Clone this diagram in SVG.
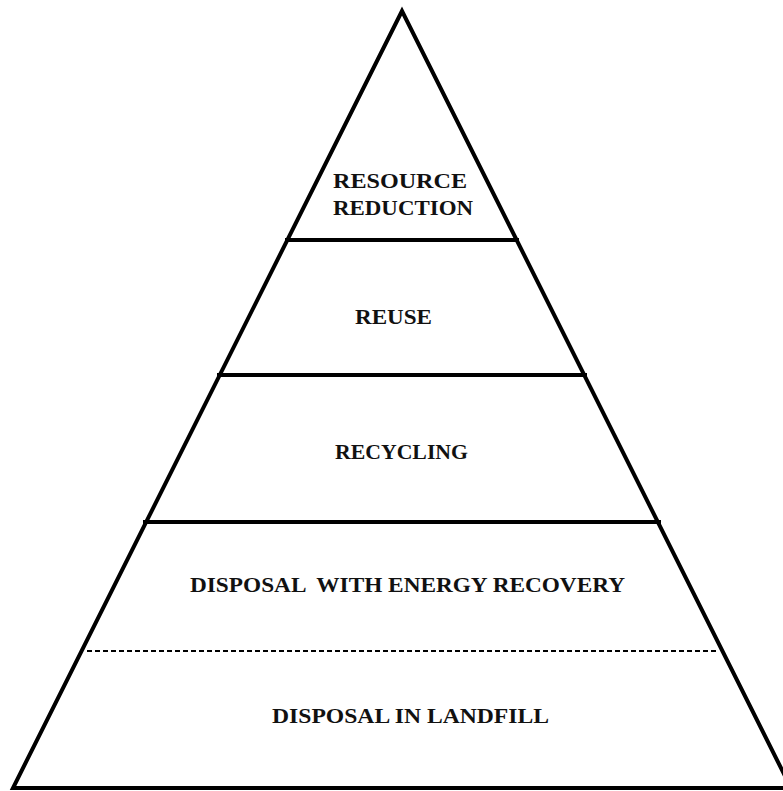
<svg xmlns="http://www.w3.org/2000/svg" width="783" height="791" viewBox="0 0 783 791">
  <style>
    .edge { fill: none; stroke: #000; stroke-width: 4; stroke-linejoin: miter; }
    .tier { stroke: #000; stroke-width: 4; }
    .split { stroke: #000; stroke-width: 2; stroke-dasharray: 5 3; }
    .lbl { font-family: "Liberation Serif", "Times New Roman", serif; font-weight: bold; font-size: 21px; fill: #111; text-anchor: middle; }
  </style>
  <rect width="783" height="791" fill="#fff"/>

  <!-- pyramid outline -->
  <g id="pyramid">
    <polygon class="edge" points="402,11 13,788 791,788"/>
  </g>

  <!-- tier dividers -->
  <g id="connectors">
    <line class="tier" x1="285" y1="240" x2="519" y2="240"/>
    <line class="tier" x1="217" y1="375" x2="587" y2="375"/>
    <line class="tier" x1="143" y1="522" x2="661" y2="522"/>
    <line class="split" x1="87" y1="651" x2="717" y2="651"/>
  </g>

  <g id="resource-reduction">
    <text class="lbl" x="400" y="188" textLength="134" lengthAdjust="spacingAndGlyphs">RESOURCE</text>
    <text class="lbl" x="403" y="215" textLength="140" lengthAdjust="spacingAndGlyphs">REDUCTION</text>
  </g>
  <g id="reuse">
    <text class="lbl" x="393.5" y="324" textLength="77" lengthAdjust="spacingAndGlyphs">REUSE</text>
  </g>
  <g id="recycling">
    <text class="lbl" x="401.5" y="459" textLength="133" lengthAdjust="spacingAndGlyphs">RECYCLING</text>
  </g>
  <g id="energy-recovery">
    <text class="lbl" x="407.5" y="592" textLength="435" lengthAdjust="spacingAndGlyphs" xml:space="preserve">DISPOSAL  WITH ENERGY RECOVERY</text>
  </g>
  <g id="landfill">
    <text class="lbl" x="410.5" y="723" textLength="277" lengthAdjust="spacingAndGlyphs">DISPOSAL IN LANDFILL</text>
  </g>
</svg>
